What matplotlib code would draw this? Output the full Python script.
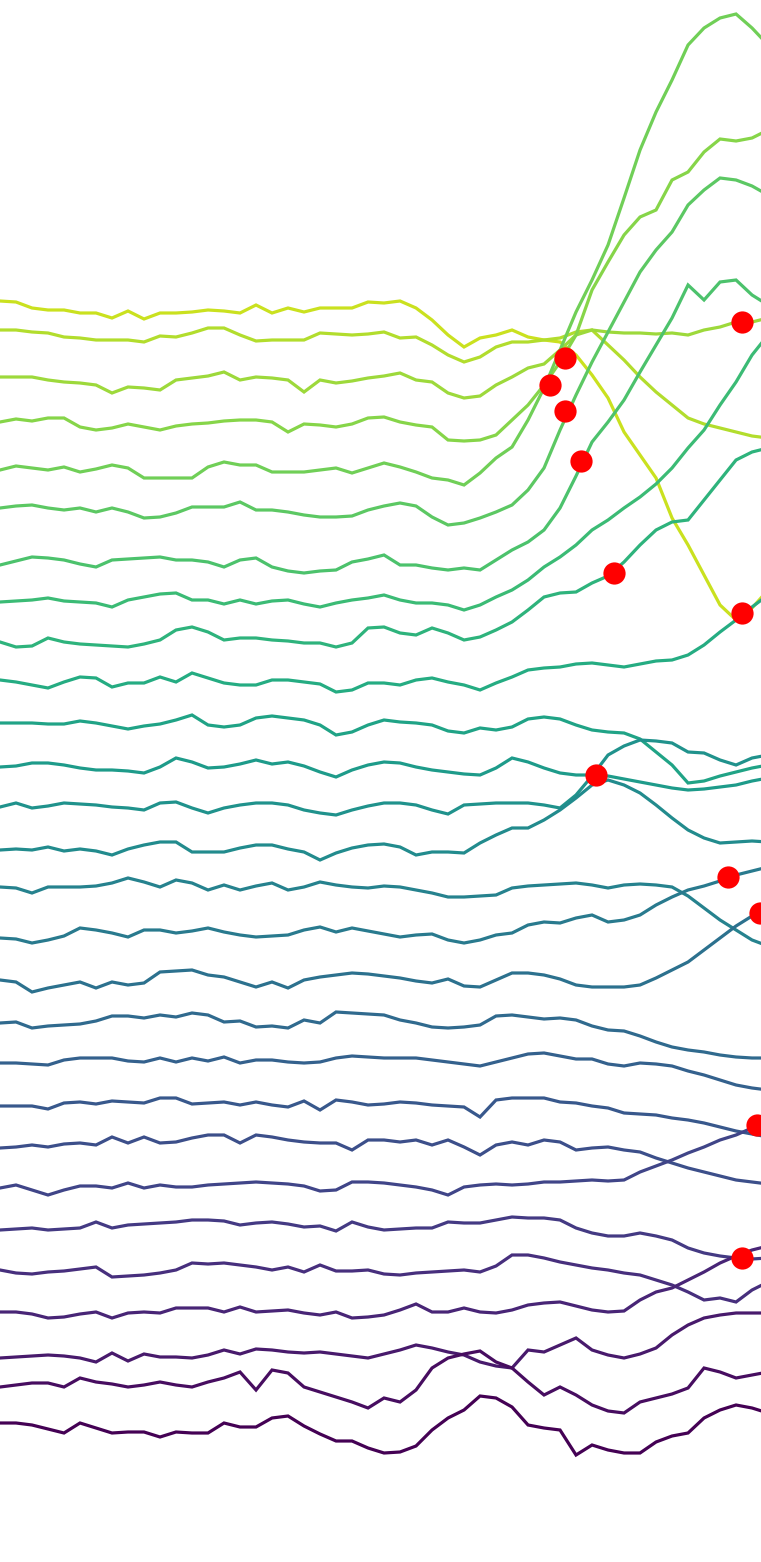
import numpy as np
import matplotlib
matplotlib.use("Agg")
import matplotlib.pyplot as plt

# time steps shared by every trace
steps = np.arange(49)

# trace levels, top trace first (depth units, larger = lower on the page)
trace_01 = [301, 302, 308, 310, 310, 313, 313, 318, 311, 319, 313, 313, 312, 310, 311, 313, 305,
            313, 308, 312, 308, 308, 308, 302, 303, 301, 308, 320, 335, 347, 338, 335,
            330, 337, 340, 342, 355, 375, 398, 432, 455, 478, 518, 545, 575, 605, 620, 608, 590]
trace_02 = [330, 330, 332, 333, 337, 338, 340, 340, 340, 342, 336, 337, 333, 328, 328, 335, 341,
            340, 340, 340, 333, 334, 335, 334, 332, 338, 337, 345, 355, 362, 357, 347,
            342, 342, 340, 338, 332, 330, 345, 360, 377, 392, 405, 418, 424, 428, 432, 436, 438]
trace_03 = [377, 377, 377, 380, 382, 383, 385, 393, 387, 388, 390, 380, 378, 376, 372, 380, 377,
            378, 380, 392, 380, 383, 381, 378, 376, 373, 380, 382, 393, 398, 396, 385,
            377, 368, 364, 350, 335, 330, 332, 333, 333, 334, 333, 335, 330, 327, 322, 322, 318]
trace_04 = [422, 419, 421, 418, 418, 427, 430, 428, 424, 427, 430, 426, 424, 423, 421, 420, 420,
            422, 432, 424, 425, 427, 424, 418, 417, 422, 425, 427, 440, 441, 440, 435,
            420, 405, 385, 362, 335, 290, 262, 235, 217, 210, 180, 172, 152, 139, 141, 138, 130]
trace_05 = [470, 466, 468, 470, 467, 472, 469, 465, 468, 478, 478, 478, 478, 467, 462, 465, 465,
            472, 472, 472, 470, 468, 473, 468, 463, 467, 472, 478, 480, 485, 473, 458,
            447, 420, 388, 350, 312, 280, 245, 198, 150, 112, 80, 45, 28, 18, 14, 28, 45]
trace_06 = [508, 506, 505, 508, 510, 508, 512, 508, 512, 518, 517, 513, 507, 507, 507, 502, 510,
            510, 512, 515, 517, 517, 516, 510, 506, 503, 506, 517, 525, 523, 518, 512,
            505, 490, 468, 430, 395, 362, 332, 302, 272, 250, 232, 205, 190, 178, 180, 186, 195]
trace_07 = [565, 561, 557, 558, 560, 564, 567, 560, 559, 558, 557, 560, 560, 562, 567, 560, 558,
            567, 571, 573, 571, 570, 562, 559, 555, 565, 565, 568, 570, 568, 570, 560,
            550, 542, 530, 508, 476, 442, 422, 400, 372, 345, 318, 285, 300, 282, 280, 295, 305]
trace_08 = [602, 601, 600, 598, 601, 602, 603, 607, 600, 597, 594, 593, 600, 600, 604, 600, 604,
            601, 600, 604, 607, 603, 600, 598, 595, 600, 603, 603, 605, 610, 605, 597,
            590, 580, 567, 557, 545, 530, 520, 508, 497, 484, 468, 448, 430, 405, 382, 355, 335]
trace_09 = [642, 647, 646, 638, 642, 644, 645, 646, 647, 644, 640, 630, 627, 632, 640, 638, 638,
            640, 641, 643, 643, 647, 643, 628, 627, 633, 635, 628, 633, 640, 637, 630,
            622, 610, 597, 593, 592, 583, 576, 562, 545, 530, 522, 520, 500, 480, 460, 452, 448]
trace_10 = [680, 682, 685, 688, 682, 677, 678, 687, 683, 683, 677, 682, 673, 678, 683, 685, 685,
            680, 680, 682, 684, 692, 690, 683, 683, 685, 680, 678, 682, 685, 690, 683,
            677, 670, 668, 667, 664, 663, 665, 667, 664, 661, 660, 655, 645, 632, 620, 607, 595]
trace_11 = [723, 723, 723, 724, 724, 721, 723, 726, 729, 726, 724, 720, 715, 725, 727, 725, 718,
            716, 718, 720, 725, 735, 732, 725, 720, 722, 723, 725, 731, 733, 728, 730,
            727, 719, 717, 719, 725, 730, 732, 733, 739, 752, 765, 783, 781, 776, 772, 768, 765]
trace_12 = [767, 766, 763, 763, 765, 768, 770, 770, 771, 773, 767, 758, 762, 768, 767, 764, 760,
            764, 762, 766, 772, 777, 770, 765, 762, 763, 767, 770, 772, 774, 775, 768,
            758, 762, 768, 773, 775, 775, 776, 779, 782, 785, 788, 790, 789, 787, 785, 781, 778]
trace_13 = [807, 803, 808, 806, 803, 804, 805, 807, 808, 810, 803, 802, 808, 813, 808, 805, 803,
            803, 805, 810, 813, 815, 810, 806, 803, 803, 805, 810, 814, 805, 804, 803,
            803, 803, 805, 808, 795, 776, 755, 746, 740, 741, 743, 752, 753, 760, 765, 758, 755]
trace_14 = [850, 849, 850, 847, 851, 849, 851, 855, 849, 845, 842, 842, 852, 852, 852, 848, 845,
            845, 849, 852, 860, 853, 848, 845, 844, 847, 855, 852, 852, 853, 843, 835,
            828, 828, 820, 810, 798, 785, 780, 785, 793, 805, 818, 830, 838, 843, 842, 841, 842]
trace_15 = [887, 888, 893, 887, 887, 887, 886, 883, 878, 882, 887, 880, 883, 890, 885, 890, 886,
            883, 890, 887, 882, 885, 887, 888, 886, 887, 890, 893, 897, 897, 896, 895,
            888, 886, 885, 884, 883, 885, 888, 885, 884, 885, 887, 896, 908, 920, 930, 940, 946]
trace_16 = [938, 939, 943, 940, 936, 928, 930, 933, 937, 930, 930, 933, 931, 928, 932, 935, 937,
            936, 935, 930, 927, 932, 928, 931, 934, 937, 935, 934, 940, 943, 940, 935,
            933, 925, 922, 923, 918, 915, 922, 920, 915, 905, 897, 890, 886, 881, 875, 871, 867]
trace_17 = [980, 982, 992, 988, 985, 982, 988, 982, 985, 983, 972, 971, 970, 975, 977, 982, 987,
            982, 988, 980, 977, 975, 973, 974, 976, 978, 981, 983, 979, 986, 987, 980,
            973, 973, 975, 979, 985, 987, 987, 987, 985, 978, 970, 962, 950, 938, 926, 916, 907]
trace_18 = [1023, 1022, 1028, 1026, 1025, 1024, 1021, 1016, 1016, 1018, 1015, 1017, 1013, 1015, 1022, 1021, 1027,
            1026, 1028, 1020, 1023, 1012, 1013, 1014, 1015, 1020, 1023, 1027, 1028, 1027, 1025, 1016,
            1015, 1017, 1019, 1018, 1020, 1026, 1030, 1031, 1036, 1042, 1047, 1050, 1052, 1055, 1057, 1058, 1058]
trace_19 = [1063, 1063, 1064, 1065, 1060, 1058, 1058, 1058, 1061, 1062, 1058, 1062, 1058, 1061, 1057, 1063, 1060,
            1060, 1062, 1063, 1062, 1058, 1056, 1057, 1058, 1058, 1058, 1060, 1062, 1064, 1066, 1062,
            1058, 1054, 1053, 1056, 1059, 1059, 1064, 1066, 1063, 1064, 1066, 1071, 1075, 1080, 1085, 1088, 1090]
trace_20 = [1106, 1106, 1106, 1109, 1103, 1102, 1104, 1101, 1102, 1103, 1098, 1098, 1104, 1103, 1102, 1105, 1102,
            1105, 1107, 1101, 1110, 1100, 1102, 1105, 1104, 1102, 1103, 1105, 1106, 1107, 1117, 1100,
            1098, 1098, 1098, 1102, 1103, 1106, 1108, 1113, 1114, 1115, 1118, 1120, 1123, 1127, 1131, 1134, 1137]
trace_21 = [1148, 1147, 1145, 1147, 1144, 1143, 1145, 1137, 1143, 1137, 1143, 1142, 1138, 1135, 1135, 1143, 1135,
            1137, 1140, 1142, 1143, 1143, 1150, 1140, 1140, 1142, 1140, 1145, 1140, 1147, 1155, 1145,
            1142, 1145, 1140, 1142, 1150, 1148, 1147, 1150, 1152, 1158, 1163, 1168, 1172, 1176, 1180, 1182, 1184]
trace_22 = [1188, 1185, 1190, 1195, 1190, 1186, 1186, 1188, 1183, 1188, 1185, 1187, 1187, 1185, 1184, 1183, 1182,
            1183, 1184, 1186, 1191, 1190, 1182, 1182, 1183, 1185, 1187, 1190, 1195, 1187, 1185, 1184,
            1185, 1184, 1182, 1182, 1181, 1180, 1181, 1180, 1172, 1166, 1160, 1153, 1147, 1140, 1135, 1128, 1122]
trace_23 = [1230, 1229, 1228, 1230, 1229, 1228, 1222, 1228, 1225, 1224, 1223, 1222, 1220, 1220, 1221, 1225, 1223,
            1222, 1224, 1227, 1226, 1231, 1222, 1227, 1230, 1229, 1228, 1228, 1222, 1223, 1223, 1220,
            1217, 1218, 1218, 1220, 1228, 1233, 1236, 1236, 1233, 1236, 1240, 1248, 1253, 1256, 1258, 1259, 1258]
trace_24 = [1270, 1273, 1274, 1272, 1271, 1269, 1267, 1277, 1276, 1275, 1273, 1270, 1263, 1264, 1263, 1265, 1267,
            1270, 1267, 1272, 1265, 1271, 1271, 1270, 1274, 1275, 1273, 1272, 1271, 1270, 1272, 1266,
            1255, 1255, 1258, 1262, 1265, 1268, 1270, 1273, 1275, 1280, 1285, 1292, 1300, 1298, 1302, 1290, 1282]
trace_25 = [1312, 1312, 1314, 1318, 1317, 1314, 1312, 1318, 1313, 1312, 1313, 1308, 1308, 1308, 1312, 1307, 1312,
            1311, 1310, 1313, 1315, 1312, 1318, 1317, 1315, 1310, 1304, 1312, 1312, 1308, 1312, 1313,
            1310, 1305, 1303, 1302, 1306, 1310, 1312, 1311, 1300, 1292, 1288, 1280, 1272, 1263, 1256, 1250, 1246]
trace_26 = [1358, 1357, 1356, 1355, 1356, 1358, 1362, 1353, 1361, 1354, 1357, 1357, 1358, 1355, 1350, 1354, 1349,
            1350, 1352, 1353, 1352, 1354, 1356, 1358, 1354, 1350, 1345, 1348, 1352, 1355, 1362, 1366,
            1368, 1350, 1352, 1345, 1338, 1350, 1355, 1358, 1354, 1348, 1335, 1325, 1318, 1315, 1313, 1313, 1313]
trace_27 = [1387, 1385, 1383, 1383, 1387, 1378, 1382, 1384, 1387, 1385, 1382, 1385, 1387, 1382, 1378, 1372, 1390,
            1370, 1373, 1387, 1392, 1397, 1402, 1408, 1398, 1402, 1390, 1368, 1358, 1354, 1351, 1362,
            1368, 1382, 1395, 1387, 1395, 1405, 1411, 1413, 1402, 1398, 1394, 1388, 1368, 1372, 1378, 1375, 1372]
trace_28 = [1423, 1423, 1425, 1429, 1433, 1423, 1428, 1433, 1432, 1432, 1437, 1432, 1433, 1433, 1423, 1427, 1427,
            1418, 1416, 1426, 1434, 1441, 1441, 1448, 1453, 1452, 1446, 1430, 1418, 1410, 1396, 1398,
            1407, 1425, 1428, 1430, 1455, 1445, 1450, 1453, 1453, 1442, 1436, 1433, 1418, 1410, 1405, 1408, 1413]

traces = [trace_01, trace_02, trace_03, trace_04, trace_05, trace_06, trace_07,
          trace_08, trace_09, trace_10, trace_11, trace_12, trace_13, trace_14,
          trace_15, trace_16, trace_17, trace_18, trace_19, trace_20, trace_21,
          trace_22, trace_23, trace_24, trace_25, trace_26, trace_27, trace_28]

# change points (red markers)
change_step = [35.3, 34.4, 35.3, 36.3, 38.4, 46.4, 46.4, 37.25, 45.5, 47.5, 47.3, 46.4]
change_level = [358, 385, 411, 461, 573, 322, 613, 775, 877, 913, 1125, 1258]

fig = plt.figure(figsize=(7.61, 15.62), dpi=100)
ax = fig.add_axes([0, 0, 1, 1])

colors = plt.cm.viridis(np.linspace(0.92, 0.0, len(traces)))
for i, tr in enumerate(traces):
    ax.plot(steps, tr, color=colors[i], lw=2.3, solid_joinstyle='miter')

ax.plot(change_step, change_level, 'o', color='red', markersize=16, markeredgewidth=0, zorder=5)

ax.set_xlim(0, 47.56)
ax.set_ylim(1562, 0)
ax.axis('off')

fig.savefig('out.png', dpi=100)
